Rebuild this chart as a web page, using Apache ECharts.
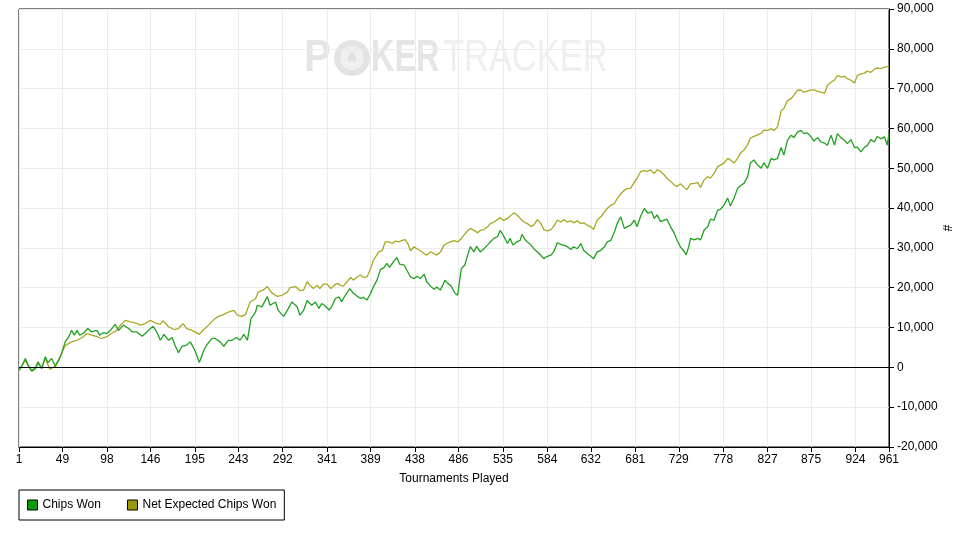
<!DOCTYPE html>
<html>
<head>
<meta charset="utf-8">
<script src="https://cdn.jsdelivr.net/npm/echarts@6/dist/echarts.min.js"></script>
<style>
html,body{margin:0;padding:0;background:#fff;}
#chart{width:953px;height:534px;}
</style>
</head>
<body>
<div id="chart"></div>
<script>
// ---- data ----
const xTickLabels = [1,49,98,146,195,243,292,341,389,438,486,535,584,632,681,729,778,827,875,924,961];

const chipsT = [1,4,8,11,15,19,22,26,30,33,37,41,45,48,52,56,59,62,65,68,72,77,81,87,90,94,98,102,107,111,116,122,126,131,137,142,
146,149,153,157,161,166,170,173,177,181,186,190,195,200,205,208,214,217,223,227,232,236,241,245,249,253,257,262,264,269,275,278,284,287,293,297,302,308,311,315,319,324,328,
332,335,339,343,346,350,354,357,361,366,370,374,378,381,385,389,392,396,400,404,407,410,414,418,421,426,429,433,437,440,444,448,451,455,459,462,466,471,474,478,482,485,489,493,496,499,503,506,510,
514,518,521,525,529,532,536,540,543,546,550,554,556,560,566,569,575,580,584,588,591,595,599,602,606,610,613,617,621,624,628,632,635,639,643,647,650,654,658,661,665,669,672,676,680,683,687,
691,695,699,702,705,709,713,716,720,724,727,731,735,737,740,742,746,750,753,757,761,764,768,772,775,779,783,786,790,794,797,801,805,808,812,816,820,823,827,831,834,838,
842,845,849,853,856,860,864,867,871,875,878,882,886,890,893,897,901,904,908,912,915,919,923,926,930,934,937,941,945,948,952,956,959,961];
const chipsV = [-670,330,2250,580,-830,-250,1420,-250,2670,1170,2250,330,1830,3500,6400,7700,9300,8100,9300,8100,8500,9750,8900,9300,8100,8700,8500,9300,10800,9300,10600,9750,8900,8900,7800,8900,
9750,10300,8900,6800,8300,6800,7500,5600,3700,5300,5600,6400,4300,1200,4300,5600,7300,7300,6400,5300,6800,6800,7500,6800,8300,6800,12250,13900,15600,15200,17800,15600,16400,14300,12800,14300,16400,15200,13100,14300,16800,15600,16400,
14800,16050,15400,14400,15200,17300,17700,16500,18100,19800,18600,17900,17300,17600,16900,18600,20200,21900,24600,25100,26100,25100,26500,27600,25900,25700,24400,22700,22300,22900,22300,23400,21500,20400,19600,20200,19400,21900,21100,20400,18600,18100,24800,25700,28200,30300,29000,30400,29000,
29800,30700,31500,32400,32800,34400,32900,31100,32400,30700,31500,31900,33400,31900,30700,29800,28600,27300,27900,28200,29000,31300,30900,30700,30300,29600,30300,29800,31100,29400,28600,27900,27300,29000,29400,30300,31500,31900,34000,36100,37800,34900,35300,35700,37000,35300,38000,
39900,38700,39100,37400,38300,36600,37000,37200,35300,33700,32000,30200,29100,28200,30300,32400,32000,32400,32000,34500,35300,37200,37000,39500,39700,40800,42500,40500,42500,45000,45600,46200,47900,51300,52100,50800,50000,51400,50000,52500,52100,52500,
55200,53300,57000,58300,57700,59100,59500,58700,58900,57900,56800,57700,56600,56300,55800,58300,55800,58700,57700,57000,56200,57200,55200,55300,54100,55300,55700,57200,56600,58000,57400,57900,55800,58700];

const evT = [1,4,8,11,15,19,22,26,30,35,41,46,52,59,65,72,76,81,87,92,98,103,109,113,118,124,129,135,140,
146,151,157,160,166,172,177,182,186,192,200,205,210,216,221,227,232,238,242,247,251,256,262,265,271,275,280,286,291,297,300,306,311,
315,319,322,326,330,333,337,341,345,348,352,356,359,363,367,370,374,378,381,385,389,392,398,402,405,409,413,416,420,424,427,430,433,437,440,444,448,451,455,459,462,466,470,473,477,481,485,488,492,496,499,503,507,
510,514,518,521,525,529,532,536,540,543,547,551,554,558,562,566,569,573,577,580,584,588,591,595,599,602,606,610,613,617,621,624,628,632,635,639,643,647,650,654,658,661,665,669,672,676,680,683,687,
691,694,698,702,705,709,713,716,720,724,727,731,735,738,742,746,750,753,757,761,764,768,772,775,779,783,786,790,794,797,801,805,808,812,816,820,823,
827,831,834,838,842,845,849,853,856,860,864,867,871,875,878,882,886,890,893,897,901,904,908,912,915,919,923,926,930,934,937,941,945,948,952,956,961];
const evV = [-670,300,1800,500,-1000,-400,1000,-300,2200,-500,300,2500,5500,6400,6800,7700,8500,8100,7700,7250,7700,8500,9300,10600,11800,11400,11200,10600,11000,
11800,11200,10800,11700,10200,9500,9750,11000,9750,9300,8300,9500,10600,12000,12800,13300,13900,14300,13100,12800,13300,16400,17250,18900,19500,20300,18700,17800,18100,18900,20000,20300,19300,
19400,21500,20600,19800,20600,19800,20900,20900,19800,20400,21100,20600,20400,21500,22600,21900,22700,23200,22600,22700,24800,26900,29000,29400,31500,31500,31100,31700,31500,31900,32100,31100,29300,30300,29800,29300,28600,28200,29000,28600,28200,29000,30700,31100,31500,31800,31500,32100,33200,34300,34900,34400,33800,
34400,34600,35300,36100,36500,37100,37600,36900,37400,38000,38800,38200,37400,36500,36100,35400,35700,37100,36100,34600,34300,34600,35400,37000,36500,37100,36500,36800,36300,36800,36100,36300,35700,35300,34600,37000,37800,39000,39900,40700,41100,42400,43600,44500,44900,45000,46500,47500,49200,
49400,49200,49600,48700,49600,49200,48300,47500,46700,45800,45400,46100,45200,44600,46100,46200,46400,45200,47100,47900,47500,48700,50400,50800,51300,52500,52100,51300,52500,53800,54600,55900,57600,58000,58400,58800,59600,
59500,59900,59500,60400,64500,65000,67000,67500,68300,69600,69600,69100,69400,69700,69700,69400,69100,68900,70800,71600,72200,73300,72900,73100,72500,72100,71400,73300,73700,73900,74400,74100,74900,75200,75000,75400,75600];

// ---- build categories 1..961 ----
const tournaments = [];
for (let i = 1; i <= 961; i++) tournaments.push(String(i));
const tickSet = new Set(xTickLabels.map(String));
const showTick = (idx, val) => tickSet.has(String(val));

const FONT = '"Liberation Sans", Arial, sans-serif';
const chart = echarts.init(document.getElementById('chart'), null, {renderer: 'canvas'});

const option = {
  animation: false,
  backgroundColor: '#ffffff',
  textStyle: {fontFamily: FONT},
  grid: {left: 19, right: 64, top: 9, bottom: 87, show: true, borderColor: '#000', borderWidth: 1,
         containLabel: false, outerBoundsMode: 'none'},
  graphic: [
    {type: 'text', x: 304, y: 59, scaleX: 0.9, z: 0, silent: true,
     style: {text: 'P', font: 'bold 45px ' + FONT, fill: '#e5e5e5', textVerticalAlign: 'middle'}},
    {type: 'circle', shape: {cx: 352, cy: 58, r: 18}, z: 0, silent: true, style: {fill: '#e3e3e3'}},
    {type: 'circle', shape: {cx: 352, cy: 58, r: 12}, z: 0, silent: true, style: {fill: '#efefef'}},
    {type: 'text', x: 352, y: 59, z: 0, silent: true,
     style: {text: '\u2660', font: '16px "DejaVu Sans"', fill: '#e0e0e0', textAlign: 'center', textVerticalAlign: 'middle'}},
    {type: 'text', x: 371, y: 59, scaleX: 0.72, z: 0, silent: true,
     style: {text: 'KER', font: 'bold 45px ' + FONT, fill: '#e5e5e5', textVerticalAlign: 'middle'}},
    {type: 'text', x: 443, y: 59, scaleX: 0.765, z: 0, silent: true,
     style: {text: 'TRACKER', font: '45px ' + FONT, fill: '#efefef', textVerticalAlign: 'middle'}},
    {type: 'text', x: 946, y: 228, rotation: -Math.PI / 2, z: 5, silent: true,
     style: {text: '#', font: '12px ' + FONT, fill: '#000', textAlign: 'center', textVerticalAlign: 'middle'}}
  ],
  legend: {
    left: 19, top: 490, orient: 'horizontal',
    borderColor: '#000', borderWidth: 1, padding: [9, 8, 9, 8],
    itemGap: 26, itemWidth: 10, itemHeight: 10, icon: 'rect',
    textStyle: {fontSize: 12, color: '#000', fontFamily: FONT},
    data: [
      {name: 'Chips Won', itemStyle: {color: '#0a9a0a', borderColor: '#000', borderWidth: 1}},
      {name: 'Net Expected Chips Won', itemStyle: {color: '#9a9a10', borderColor: '#000', borderWidth: 1}}
    ]
  },
  xAxis: {
    type: 'category', data: tournaments, boundaryGap: false,
    name: 'Tournaments Played', nameLocation: 'middle', nameGap: 26,
    nameTextStyle: {fontSize: 12, color: '#000', fontFamily: FONT},
    axisLine: {show: true, onZero: false, lineStyle: {color: '#000', width: 1}},
    axisTick: {show: true, interval: showTick, length: 5, lineStyle: {color: '#000'}},
    axisLabel: {show: true, interval: showTick, margin: 7, fontSize: 12, color: '#000', fontFamily: FONT},
    splitLine: {show: true, interval: showTick, lineStyle: {color: '#ececec', width: 1}}
  },
  yAxis: {
    type: 'value', position: 'right', min: -20000, max: 90000, interval: 10000,
    axisLine: {show: true, lineStyle: {color: '#000', width: 1}},
    axisTick: {show: true, length: 5, lineStyle: {color: '#000'}},
    axisLabel: {margin: 8, fontSize: 12, color: '#000', fontFamily: FONT,
      formatter: v => v.toLocaleString('en-US')},
    splitLine: {show: true, lineStyle: {color: '#ececec', width: 1}}
  },
  series: [
    {
      name: 'Chips Won', type: 'line', symbol: 'none', z: 3,
      color: '#22a022',
      lineStyle: {color: '#22a022', width: 1.3},
      data: chipsT.map((t, i) => [String(t), chipsV[i]]),
      markLine: {
        silent: true, symbol: 'none', label: {show: false},
        lineStyle: {color: '#000', width: 1, type: 'solid'},
        data: [{yAxis: 0}]
      }
    },
    {
      name: 'Net Expected Chips Won', type: 'line', symbol: 'none', z: 2,
      color: '#a8a826',
      lineStyle: {color: '#a8a826', width: 1.3},
      data: evT.map((t, i) => [String(t), evV[i]])
    }
  ]
};
chart.setOption(option);
</script>
</body>
</html>
